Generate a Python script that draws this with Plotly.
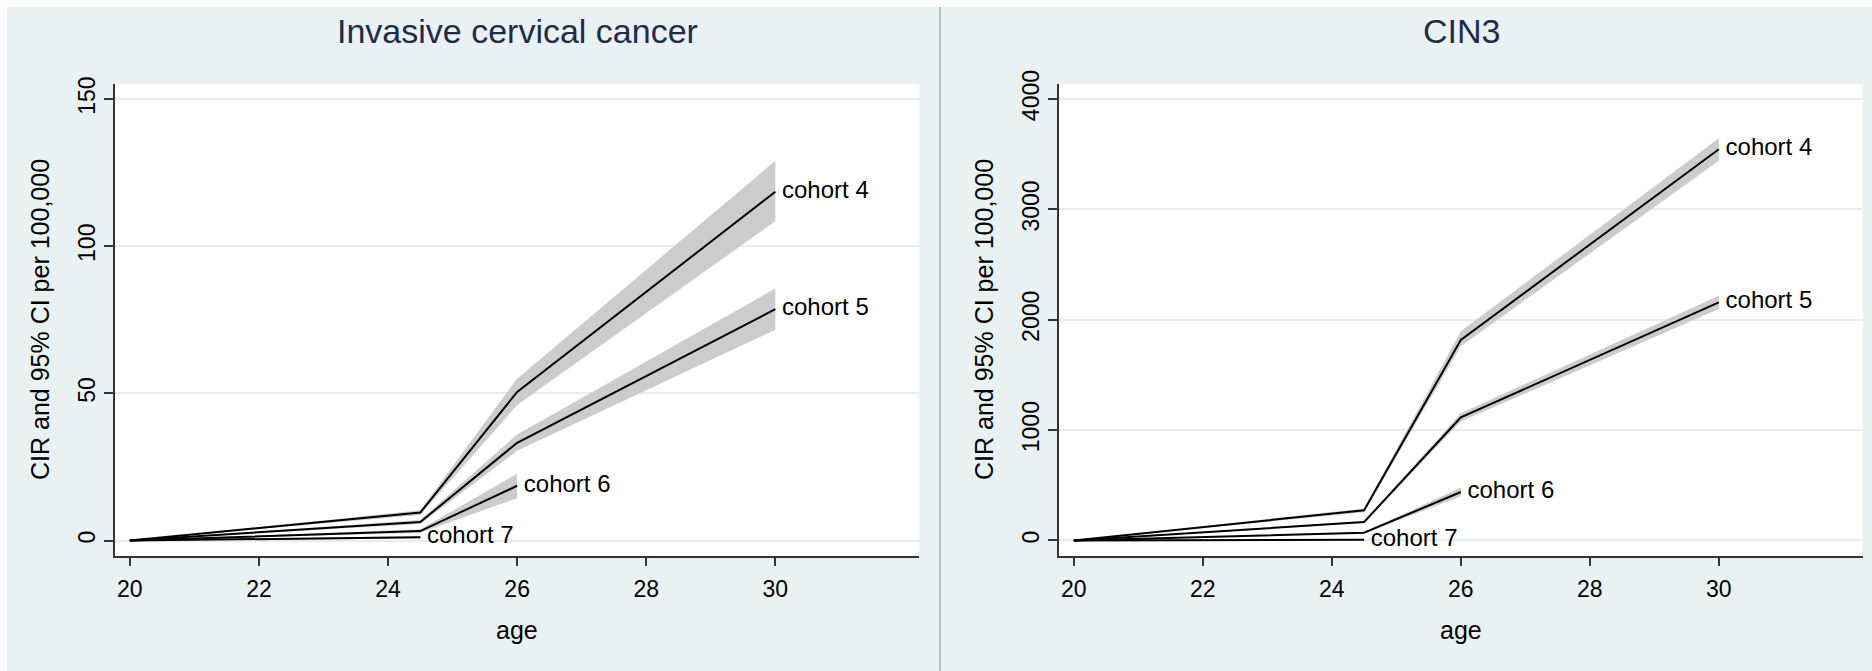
import plotly.graph_objects as go

W, H = 1872, 671

# ---------------- data ----------------
ages = [20, 24.5, 26, 30]
cohort_names = ["cohort 4", "cohort 5", "cohort 6", "cohort 7"]

# Invasive cervical cancer (CIR per 100,000)
icc_c4 = [0, 9.5, 50.5, 118.5]
icc_c4_lo = [0, 8.7, 46.0, 108.5]
icc_c4_hi = [0, 10.3, 55.0, 129.0]
icc_c5 = [0, 6.3, 33.2, 78.6]
icc_c5_lo = [0, 5.6, 30.5, 71.6]
icc_c5_hi = [0, 7.0, 36.0, 85.6]
icc_c6 = [0, 3.2, 18.6]
icc_c6_lo = [0, 2.6, 14.4]
icc_c6_hi = [0, 3.8, 22.7]
icc_c7 = [0, 1.1]
icc_c7_lo = [0, 0.7]
icc_c7_hi = [0, 1.5]

# CIN3 (CIR per 100,000)
cin_c4 = [0, 273, 1818, 3545]
cin_c4_lo = [0, 255, 1760, 3440]
cin_c4_hi = [0, 290, 1895, 3645]
cin_c5 = [0, 167, 1115, 2158]
cin_c5_lo = [0, 158, 1078, 2097]
cin_c5_hi = [0, 176, 1152, 2218]
cin_c6 = [0, 70, 439]
cin_c6_lo = [0, 64, 400]
cin_c6_hi = [0, 76, 479]
cin_c7 = [0, 6]
cin_c7_lo = [0, 4]
cin_c7_hi = [0, 8]

x_ticks = [20, 22, 24, 26, 28, 30]
icc_ticks = [0, 50, 100, 150]
cin_ticks = [0, 1000, 2000, 3000, 4000]

panel_titles = ["Invasive cervical cancer", "CIN3"]
y_title = "CIR and 95% CI per 100,000"
x_title = "age"

# ---------------- styling ----------------
BG = "#eaf1f3"
GRID = "#e4edf0"
BAND = "rgb(204,204,204)"
FONT = "Liberation Sans, Arial, sans-serif"
TITLE_COLOR = "#1f2c48"

fig = go.Figure()

panels = [
    ("x", "y", [(icc_c4, icc_c4_lo, icc_c4_hi), (icc_c5, icc_c5_lo, icc_c5_hi),
                (icc_c6, icc_c6_lo, icc_c6_hi), (icc_c7, icc_c7_lo, icc_c7_hi)]),
    ("x2", "y2", [(cin_c4, cin_c4_lo, cin_c4_hi), (cin_c5, cin_c5_lo, cin_c5_hi),
                  (cin_c6, cin_c6_lo, cin_c6_hi), (cin_c7, cin_c7_lo, cin_c7_hi)]),
]

for xa, ya, series in panels:
    # confidence bands first
    for est, lo, hi in series:
        xs = ages[:len(est)]
        fig.add_trace(go.Scatter(
            x=xs + xs[::-1], y=hi + lo[::-1], xaxis=xa, yaxis=ya,
            fill="toself", fillcolor=BAND, line=dict(width=0),
            mode="lines", hoverinfo="skip", showlegend=False))
    for (est, lo, hi), name in zip(series, cohort_names):
        xs = ages[:len(est)]
        fig.add_trace(go.Scatter(
            x=xs, y=est, xaxis=xa, yaxis=ya, mode="lines+text",
            line=dict(color="black", width=2), showlegend=False, name=name,
            text=[""] * (len(xs) - 1) + [" " + name], textposition="middle right",
            textfont=dict(family=FONT, size=24, color="black")))

# plot-area geometry (pixels)
top_px, bot_px = 84, 555.7
ydom = [1 - bot_px / H, 1 - top_px / H]
left_dom = [115 / W, 919.3 / W]
right_dom = [1059 / W, 1862.7 / W]

xaxis_common = dict(
    range=[19.77, 32.23], tickvals=x_ticks, ticks="outside", ticklen=8,
    tickwidth=1.5, tickcolor="#333", showline=True, linecolor="#333", linewidth=2,
    showgrid=False, zeroline=False, ticklabelstandoff=4, automargin=False,
    tickfont=dict(family=FONT, size=23, color="black"))
yaxis_common = dict(
    ticks="outside", ticklen=9, tickwidth=1.5, tickcolor="#333",
    showline=True, linecolor="#333", linewidth=2, showgrid=True,
    gridcolor=GRID, gridwidth=2, zeroline=False, tickangle=-90, automargin=False,
    tickfont=dict(family=FONT, size=23, color="black"))

fig.update_layout(
    width=W, height=H, margin=dict(l=0, r=0, t=0, b=0, autoexpand=False),
    paper_bgcolor=BG, plot_bgcolor="white",
    xaxis=dict(domain=left_dom, anchor="y", **xaxis_common),
    yaxis=dict(domain=ydom, anchor="x", range=[-5.16, 155.1], tickvals=icc_ticks, **yaxis_common),
    xaxis2=dict(domain=right_dom, anchor="y2", **xaxis_common),
    yaxis2=dict(domain=ydom, anchor="x2", range=[-138, 4136], tickvals=cin_ticks, **yaxis_common),
)

# white outer margins and panel divider
fig.add_shape(type="rect", xref="paper", yref="paper", x0=0, x1=1, y0=1 - 7 / H, y1=1,
              fillcolor="white", line=dict(width=0), layer="above")
fig.add_shape(type="rect", xref="paper", yref="paper", x0=0, x1=7 / W, y0=0, y1=1,
              fillcolor="white", line=dict(width=0), layer="above")
fig.add_shape(type="line", xref="paper", yref="paper", x0=940 / W, x1=940 / W, y0=0, y1=1 - 7 / H,
              line=dict(color="#a9adb0", width=1.5), layer="above")

# titles
for cx, title in zip([517, 1461], panel_titles):
    fig.add_annotation(x=cx / W, y=1 - 31 / H, xref="paper", yref="paper", text=title,
                       showarrow=False, xanchor="center", yanchor="middle",
                       font=dict(family=FONT, size=34, color=TITLE_COLOR))
for cx in [517, 1461]:
    fig.add_annotation(x=cx / W, y=1 - 630 / H, xref="paper", yref="paper", text=x_title,
                       showarrow=False, xanchor="center", yanchor="middle",
                       font=dict(family=FONT, size=25, color="black"))
for cx in [40, 984]:
    fig.add_annotation(x=cx / W, y=1 - 320 / H, xref="paper", yref="paper", text=y_title,
                       showarrow=False, xanchor="center", yanchor="middle", textangle=-90,
                       font=dict(family=FONT, size=25, color="black"))

fig.write_html("out.html", config={"displayModeBar": False},
               post_script="document.body.style.margin='0px';")
